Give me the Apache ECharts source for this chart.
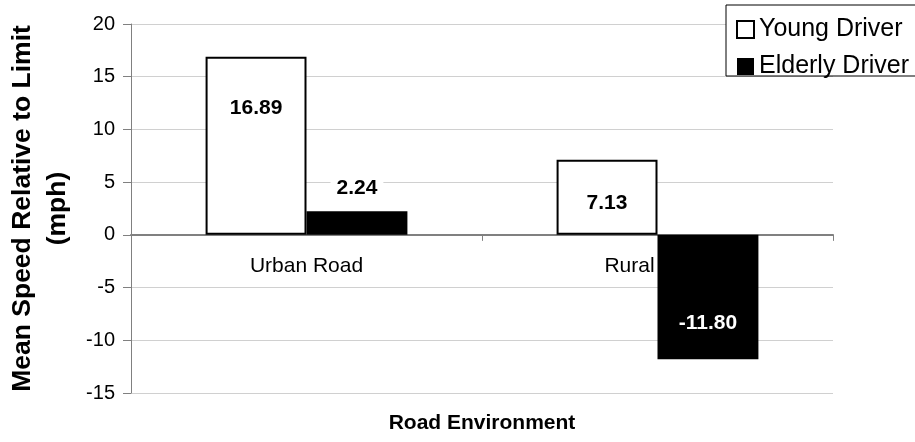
<!DOCTYPE html>
<html>
<head>
<meta charset="utf-8">
<script src="https://cdn.jsdelivr.net/npm/echarts@6/dist/echarts.min.js"></script>
<style>
  html, body { margin: 0; padding: 0; background: #fff; }
  #chart { width: 915px; height: 442px; }
</style>
</head>
<body>
<div id="chart"></div>
<script>
// Mean speed relative to the posted limit, by road environment and driver group
const categories = ['Urban Road', 'Rural Road'];
const youngDriver = [16.89, 7.13];
const elderlyDriver = [2.24, -11.80];
const seriesNames = ['Young Driver', 'Elderly Driver'];
const yTicks = { min: -15, max: 20, step: 5 };

const FONT = '"Liberation Sans", Arial, Helvetica, sans-serif';

const GRID = { left: 131, right: 82, top: 24, bottom: 49 };
const plotHeight = 442 - GRID.top - GRID.bottom;
// Distance of the zero line above the bottom edge of the plot
const zeroOffset = plotHeight * (0 - yTicks.min) / (yTicks.max - yTicks.min);

// Per-bar label placement (styling only)
const youngLabelStyle = [
  { position: 'inside', offset: [0, -38] },
  { position: 'inside', offset: [0, 6] }
];
const elderlyLabelStyle = [
  { position: 'top', distance: 12, backgroundColor: '#fff', padding: [1, 6] },
  { position: 'inside', offset: [0, 26], color: '#fff' }
];

function withLabels(values, styles) {
  return values.map((v, i) => ({ value: v, label: styles[i] }));
}

const chart = echarts.init(document.getElementById('chart'), null, { renderer: 'canvas' });

chart.setOption({
  animation: false,
  backgroundColor: '#fff',
  grid: Object.assign({ containLabel: false, outerBoundsMode: 'none' }, GRID),
  legend: {
    left: 726,
    top: 5,
    orient: 'vertical',
    selectedMode: false,
    icon: 'rect',
    itemWidth: 17,
    itemHeight: 17,
    itemGap: 12,
    padding: [12, 40, -3, 10],
    backgroundColor: '#fff',
    borderColor: '#000',
    borderWidth: 1,
    z: 10,
    textStyle: { fontFamily: FONT, fontSize: 25, color: '#000' },
    data: [
      { name: seriesNames[0], itemStyle: { color: '#fff', borderColor: '#000', borderWidth: 2 } },
      { name: seriesNames[1], itemStyle: { color: '#000', borderColor: '#000', borderWidth: 0 } }
    ]
  },
  xAxis: [
    {
      type: 'category',
      data: categories,
      position: 'bottom',
      offset: -zeroOffset,
      axisLine: { onZero: false, lineStyle: { color: '#808080', width: 2 } },
      axisTick: { show: true, length: 6, inside: false, lineStyle: { color: '#808080', width: 1 } },
      axisLabel: { fontFamily: FONT, fontSize: 21, color: '#000', margin: 21 },
      splitLine: { show: false },
      z: 0
    },
    {
      type: 'category',
      data: categories,
      position: 'bottom',
      axisLine: { show: false, onZero: false },
      axisTick: { show: false },
      axisLabel: { show: false },
      name: 'Road Environment',
      nameLocation: 'middle',
      nameGap: 20,
      nameTextStyle: { fontFamily: FONT, fontSize: 21, fontWeight: 'bold', color: '#000' }
    }
  ],
  yAxis: {
    type: 'value',
    min: yTicks.min,
    max: yTicks.max,
    interval: yTicks.step,
    axisLine: { show: true, onZero: false, lineStyle: { color: '#808080', width: 1 } },
    axisTick: { show: true, length: 8, lineStyle: { color: '#808080' } },
    axisLabel: { fontFamily: FONT, fontSize: 20, color: '#000', margin: 16 },
    splitLine: { show: true, lineStyle: { color: '#d0d0d0', width: 1 } },
    name: 'Mean Speed Relative to Limit\n(mph)',
    nameLocation: 'middle',
    nameGap: 54,
    nameTextStyle: { fontFamily: FONT, fontSize: 26.5, fontWeight: 'bold', color: '#000', lineHeight: 35 }
  },
  series: [
    {
      name: seriesNames[0],
      type: 'bar',
      xAxisIndex: 0,
      data: withLabels(youngDriver, youngLabelStyle),
      barGap: '0%',
      barCategoryGap: '42.5%',
      itemStyle: { color: '#fff', borderColor: '#000', borderWidth: 2 },
      label: {
        show: true,
        fontFamily: FONT, fontSize: 21, fontWeight: 'bold', color: '#000',
        formatter: p => p.value.toFixed(2)
      },
      z: 2
    },
    {
      name: seriesNames[1],
      type: 'bar',
      xAxisIndex: 0,
      data: withLabels(elderlyDriver, elderlyLabelStyle),
      barGap: '0%',
      barCategoryGap: '42.5%',
      itemStyle: { color: '#000', borderColor: '#000', borderWidth: 0 },
      label: {
        show: true,
        fontFamily: FONT, fontSize: 21, fontWeight: 'bold', color: '#000',
        formatter: p => p.value.toFixed(2)
      },
      z: 2
    }
  ]
});
</script>
</body>
</html>
